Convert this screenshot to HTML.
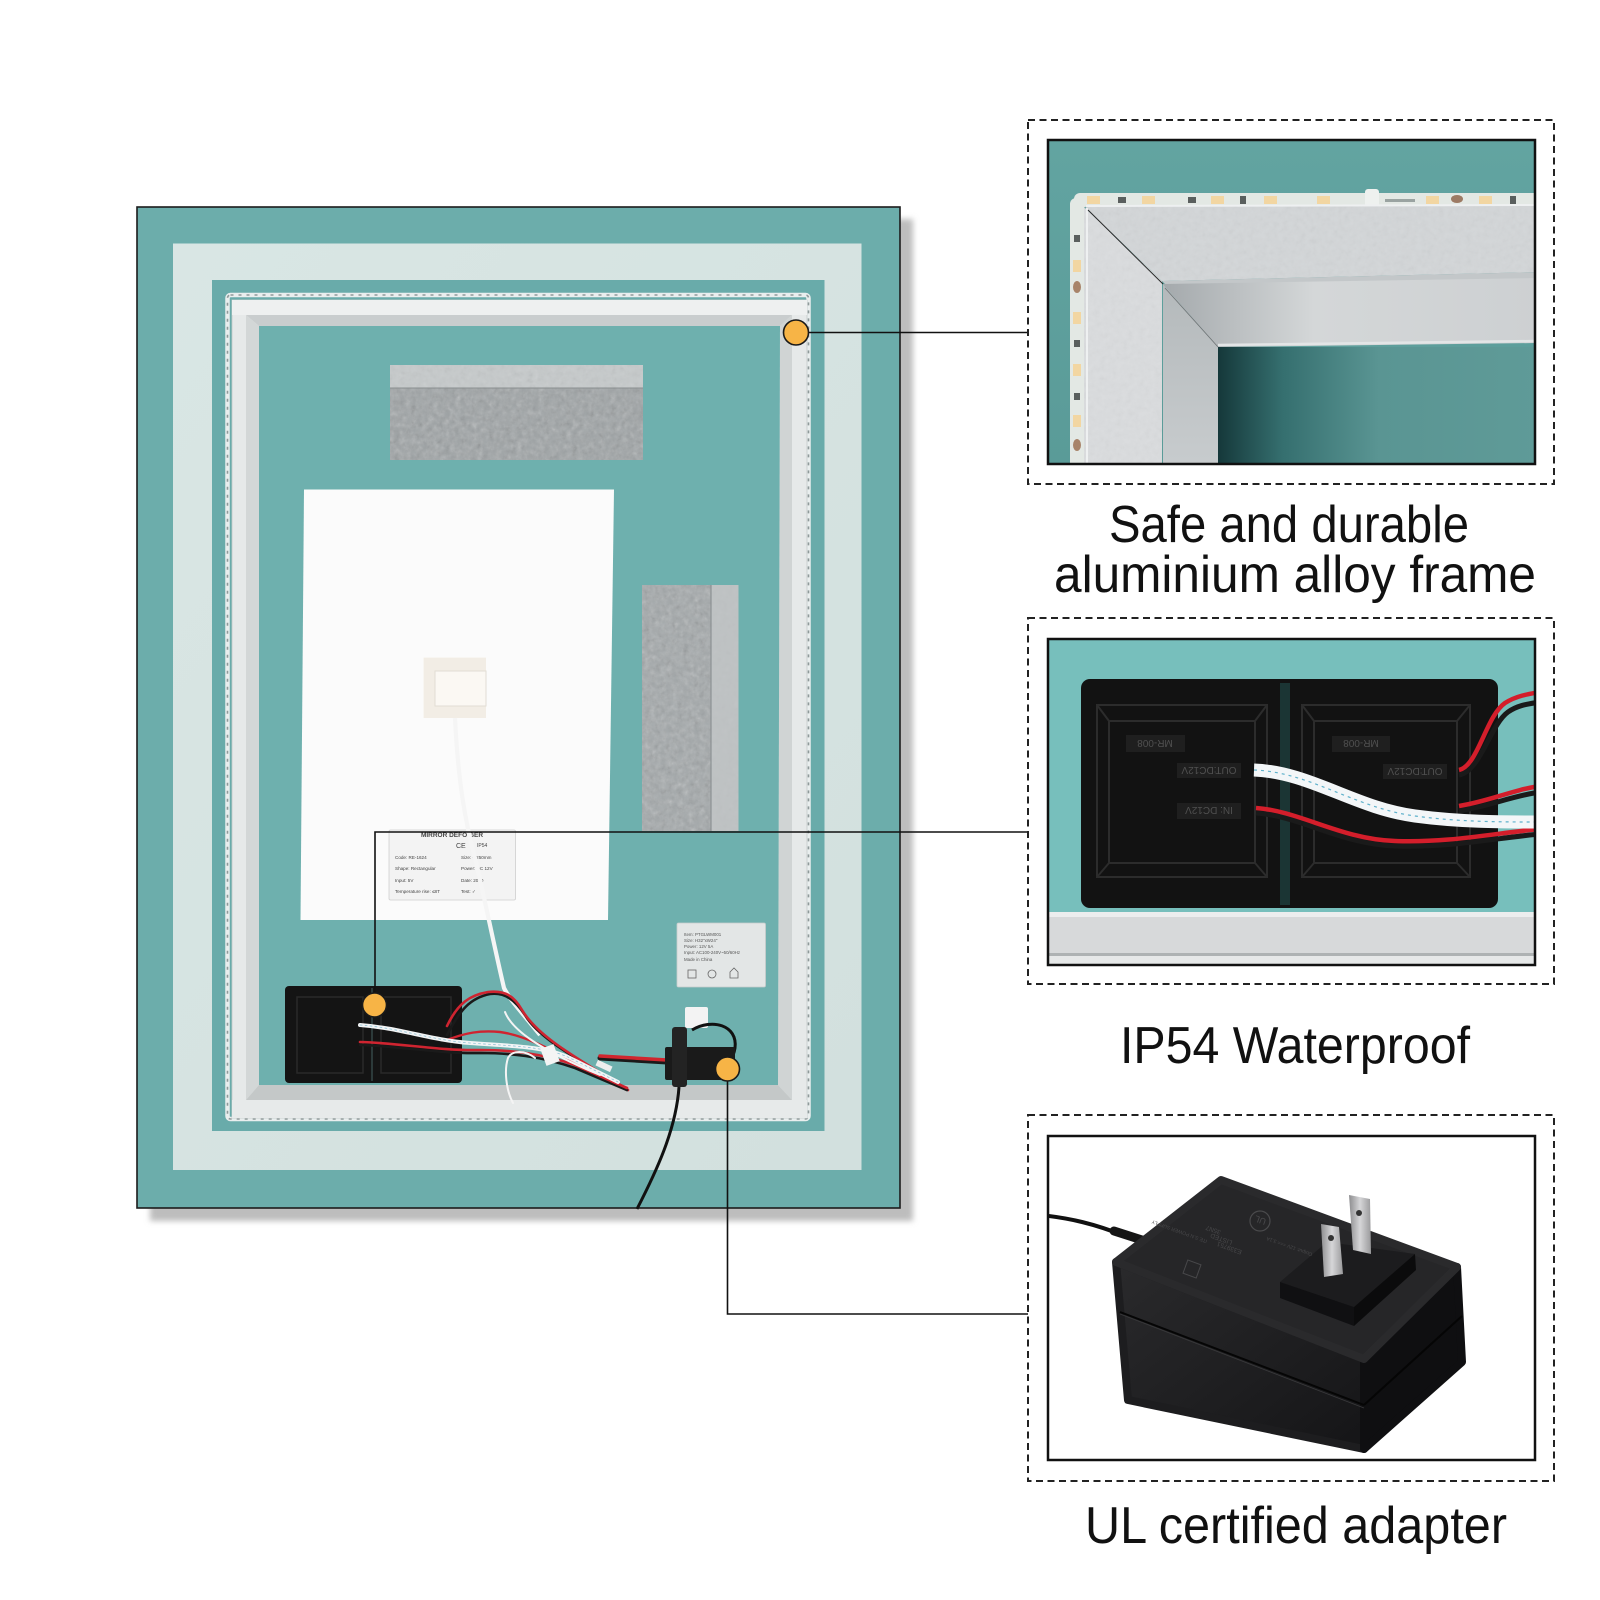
<!DOCTYPE html>
<html><head><meta charset="utf-8"><style>
html,body{margin:0;padding:0;background:#fff;}
svg{display:block;}
</style></head><body>
<svg width="1600" height="1600" viewBox="0 0 1600 1600" xmlns="http://www.w3.org/2000/svg" font-family="'Liberation Sans', sans-serif">
<defs>
  <filter id="blur3" x="-5%" y="-5%" width="110%" height="110%"><feGaussianBlur stdDeviation="3"/></filter>
  <filter id="noise" x="0" y="0" width="100%" height="100%">
    <feTurbulence type="fractalNoise" baseFrequency="0.18" numOctaves="3" seed="7"/>
    <feColorMatrix type="saturate" values="0"/>
    <feComposite operator="in" in2="SourceGraphic"/>
  </filter>
  <linearGradient id="innerTeal1" x1="0" y1="0" x2="1" y2="0">
    <stop offset="0" stop-color="#15383a"/>
    <stop offset="0.2" stop-color="#356f6f"/>
    <stop offset="0.5" stop-color="#5a9593"/>
    <stop offset="1" stop-color="#5f9b98"/>
  </linearGradient>
  <linearGradient id="innerTop1" x1="0" y1="0" x2="1" y2="0">
    <stop offset="0" stop-color="#a4a9ac"/>
    <stop offset="0.4" stop-color="#d4d7d8"/>
    <stop offset="1" stop-color="#cdd0d2"/>
  </linearGradient>
  <linearGradient id="innerLeft1" x1="0" y1="0" x2="0" y2="1">
    <stop offset="0" stop-color="#b4b9bb"/>
    <stop offset="1" stop-color="#c8ccce"/>
  </linearGradient>
  <linearGradient id="bg1" x1="0" y1="0" x2="0" y2="1">
    <stop offset="0" stop-color="#62a4a1"/>
    <stop offset="1" stop-color="#5a9b98"/>
  </linearGradient>
  <linearGradient id="band" x1="0" y1="0" x2="1" y2="1">
    <stop offset="0" stop-color="#d9e6e4"/>
    <stop offset="1" stop-color="#d2e0de"/>
  </linearGradient>
  <linearGradient id="prong" x1="0" y1="0" x2="1" y2="0">
    <stop offset="0" stop-color="#8d8d8f"/>
    <stop offset="0.5" stop-color="#d6d6d8"/>
    <stop offset="1" stop-color="#9a9a9c"/>
  </linearGradient>
  <linearGradient id="frontFace" x1="0" y1="0" x2="1" y2="1">
    <stop offset="0" stop-color="#2a2a2c"/>
    <stop offset="1" stop-color="#151517"/>
  </linearGradient>
  <clipPath id="c1"><rect x="1048" y="140" width="487" height="324"/></clipPath>
  <clipPath id="c2"><rect x="1048" y="639" width="487" height="326"/></clipPath>
  <clipPath id="c3"><rect x="1048" y="1136" width="487" height="324"/></clipPath>
</defs>

<rect width="1600" height="1600" fill="#ffffff"/>

<!-- ================= MIRROR ================= -->
<rect x="150" y="219" width="763" height="1002" fill="#bdbdbd" filter="url(#blur3)"/>
<rect x="137" y="207" width="763" height="1001" fill="#6cadab" stroke="#1c1c1c" stroke-width="1.6"/>
<rect x="173" y="243.5" width="688.5" height="926.5" fill="url(#band)"/>
<rect x="212" y="280" width="612.5" height="851" fill="#69abaa"/>

<!-- LED strip around frame -->
<rect x="227.5" y="295" width="581" height="824" fill="none" stroke="#e9eeee" stroke-width="4.5" rx="3"/>
<rect x="227.5" y="295" width="581" height="824" fill="none" stroke="#8f9a9a" stroke-width="1.6" stroke-dasharray="3 5" rx="3"/>

<!-- aluminium frame -->
<rect x="232" y="300" width="575" height="818" fill="#e6e9e9" stroke="#c5caca" stroke-width="0.8"/>
<rect x="232" y="300" width="575" height="15" fill="#eef0f0"/>
<polygon points="246,315 792,315 780,326 259,326" fill="#c9cdce"/>
<polygon points="246,315 259,326 259,1085 246,1100" fill="#d3d7d7"/>
<polygon points="792,315 780,326 778,1085 792,1100" fill="#d0d4d4"/>
<polygon points="259,1085 778,1085 792,1100 246,1100" fill="#c4c8c8"/>
<rect x="232" y="1100" width="575" height="18" fill="#e7eaea"/>
<polygon points="259,326 780,326 778,1085 259,1085" fill="#6eb0ae"/>

<!-- top bracket -->
<rect x="390" y="365" width="253" height="95" fill="#9ea3a5"/>
<rect x="390" y="365" width="253" height="95" fill="#808080" filter="url(#noise)" opacity="0.45"/>
<rect x="390" y="365" width="253" height="23" fill="#c6cacb"/>
<rect x="390" y="365" width="253" height="23" fill="#888" filter="url(#noise)" opacity="0.2"/>
<line x1="390" y1="388" x2="643" y2="388" stroke="#8a8f90" stroke-width="1"/>

<!-- right bracket -->
<rect x="642" y="585" width="96.5" height="246" fill="#a3a8aa"/>
<rect x="642" y="585" width="96.5" height="246" fill="#808080" filter="url(#noise)" opacity="0.45"/>
<rect x="711" y="585" width="27.5" height="246" fill="#c2c6c7" opacity="0.85"/>
<line x1="711" y1="585" x2="711" y2="831" stroke="#8d9294" stroke-width="1.2"/>

<!-- paper -->
<polygon points="304,489.5 614,489.5 608,920 300.5,920" fill="#fbfbfb"/>
<!-- sensor -->
<rect x="423.6" y="657.6" width="62.4" height="60.4" fill="#f2ede5"/>
<rect x="435" y="671" width="51" height="35" fill="#fbf8f3" stroke="#e2ddd4" stroke-width="1"/>

<!-- label on paper -->
<rect x="389" y="830" width="126.5" height="70" fill="#f3f3f3" stroke="#cfcfcf" stroke-width="0.8" rx="1.5"/>
<g fill="#444" font-size="4.6">
  <text x="452" y="837" text-anchor="middle" font-weight="bold" font-size="6.5">MIRROR DEFO GER</text>
  <text x="456" y="848" font-size="7">CE</text>
  <text x="477" y="847" font-size="5">IP54</text>
  <text x="395" y="859">Code: RE-1624</text>
  <text x="395" y="870">Shape: Rectangular</text>
  <text x="395" y="882">Input: 5V</text>
  <text x="395" y="893">Temperature rise: ≤8T</text>
  <text x="461" y="859">Size:  Φ250mm</text>
  <text x="461" y="870">Power:  DC 12V</text>
  <text x="461" y="882">Date:  2020</text>
  <text x="461" y="893">Test:  ✓</text>
</g>

<!-- small label -->
<rect x="677" y="923" width="88.5" height="64" fill="#e3e6e6" stroke="#c8cccc" stroke-width="0.8" rx="1.5"/>
<g fill="#555" font-size="4.4">
  <text x="684" y="936">Item: PTGLWM001</text>
  <text x="684" y="942">Size: H32"xW24"</text>
  <text x="684" y="948">Power: 12V 5A</text>
  <text x="684" y="954">Input: AC100-240V~50/60Hz</text>
  <text x="684" y="961">Made in China</text>
</g>
<rect x="688" y="970" width="8" height="8" fill="none" stroke="#666" stroke-width="0.8"/>
<circle cx="712" cy="974" r="4" fill="none" stroke="#666" stroke-width="0.8"/>
<polygon points="730,978 730,972 734,968 738,972 738,978" fill="none" stroke="#666" stroke-width="0.8"/>

<!-- sensor cable -->
<path d="M455,718 C458,780 465,822 476,862 C486,905 495,950 504,988 C510,1000 520,1010 540,1035" fill="none" stroke="#f5f5f5" stroke-width="4.2"/>

<!-- black box -->
<rect x="285" y="986" width="177" height="97" fill="#141414" rx="4"/>
<line x1="372" y1="988" x2="372" y2="1081" stroke="#2c3a3a" stroke-width="2"/>
<rect x="297" y="997" width="66" height="76" fill="none" stroke="#2a2a2a" stroke-width="1.5"/>
<rect x="381" y="997" width="70" height="76" fill="none" stroke="#2a2a2a" stroke-width="1.5"/>

<!-- wires -->
<g fill="none" stroke-linecap="round">
  <path d="M447,1035 C460,1010 470,998 490,994 C505,992 515,1000 525,1015 C540,1040 580,1060 625,1088" stroke="#1a1a1a" stroke-width="2.6"/>
  <path d="M447,1026 C458,1003 470,995 488,992 C505,990 514,996 522,1010 C540,1040 585,1062 628,1090" stroke="#cf2430" stroke-width="2.6"/>
  <path d="M447,1040 C465,1033 480,1030 500,1032 C530,1036 560,1055 618,1084" stroke="#cf2430" stroke-width="2.4"/>
  <path d="M360,1045 C400,1046 440,1054 480,1053 C510,1053 540,1056 575,1068 L627,1090" stroke="#1a1a1a" stroke-width="2.6"/>
  <path d="M360,1042 C400,1043 440,1051 480,1050 C510,1050 540,1053 575,1065 L627,1088" stroke="#cf2430" stroke-width="2.6"/>
  <path d="M360,1025 C400,1028 430,1040 470,1043 C510,1046 545,1046 570,1058 L618,1082" stroke="#f2f4f5" stroke-width="4"/>
  <path d="M360,1025 C400,1028 430,1040 470,1043 C510,1046 545,1046 570,1058 L618,1082" stroke="#8fc3d6" stroke-width="0.8" stroke-dasharray="2 3"/>
  <path d="M513,1103 C506,1090 504,1070 508,1058 C512,1050 525,1050 535,1058" stroke="#f4f4f4" stroke-width="2"/>
  <path d="M505,1012 C512,1030 540,1050 600,1075" stroke="#f4f4f4" stroke-width="2"/>
  <path d="M600,1058 L667,1062" stroke="#1a1a1a" stroke-width="5"/>
  <path d="M600,1056 L667,1060" stroke="#d0262e" stroke-width="3.5"/>
</g>
<rect x="543" y="1046" width="14" height="18" fill="#f4f4f4" transform="rotate(-20 550 1055)"/>
<rect x="596" y="1063" width="16" height="6" fill="#eeeeee" transform="rotate(25 604 1066)"/>

<!-- barrel / adapter connection -->
<rect x="685" y="1007" width="23" height="21" fill="#f3f3f3" rx="2"/>
<path d="M692,1030 C712,1018 738,1025 735,1048 C733,1060 728,1064 722,1065" fill="none" stroke="#111" stroke-width="3"/>
<rect x="665" y="1047" width="70" height="33" fill="#1a1a1a" rx="2"/>
<rect x="672" y="1027" width="15" height="60" fill="#232323" rx="3"/>
<path d="M679,1087 C676,1130 656,1172 637,1209" fill="none" stroke="#111" stroke-width="3"/>

<!-- connectors -->
<g stroke="#111" stroke-width="1.6" fill="none">
  <path d="M808,332.5 H1028"/>
  <path d="M375,993 V832 H1028"/>
  <path d="M727.5,1081 V1314 H1028"/>
</g>
<g fill="#f7b446" stroke="#1a1a1a" stroke-width="1.6">
  <circle cx="796" cy="332.5" r="12.5"/>
  <circle cx="374.5" cy="1005" r="12"/>
  <circle cx="727.5" cy="1069" r="12"/>
</g>

<!-- ================= INSET 1 ================= -->
<g clip-path="url(#c1)">
  <rect x="1048" y="140" width="487" height="324" fill="url(#bg1)"/>
  <!-- LED strip top -->
  <rect x="1074" y="193" width="470" height="14" fill="#e3e8e4" rx="6"/>
  <g fill="#f2d6a2">
    <rect x="1087" y="196" width="13" height="8"/><rect x="1142" y="196" width="13" height="8"/>
    <rect x="1211" y="196" width="13" height="8"/><rect x="1264" y="196" width="13" height="8"/>
    <rect x="1317" y="196" width="13" height="8"/><rect x="1426" y="196" width="13" height="8"/>
    <rect x="1479" y="196" width="13" height="8"/>
  </g>
  <g fill="#5a5f5e">
    <rect x="1118" y="197" width="8" height="6"/><rect x="1188" y="197" width="8" height="6"/>
    <rect x="1240" y="196" width="6" height="8"/><rect x="1510" y="196" width="6" height="8"/>
    <rect x="1385" y="199" width="30" height="3" fill="#9aa3a1"/>
  </g>
  <rect x="1365" y="189" width="14" height="18" fill="#eef1ef" rx="3"/>
  <ellipse cx="1457" cy="199" rx="6" ry="4" fill="#9c7a64"/>
  <!-- LED strip left -->
  <rect x="1070" y="198" width="14" height="280" fill="#e3e8e4" rx="6"/>
  <g fill="#f2d6a2">
    <rect x="1073" y="260" width="8" height="12"/><rect x="1073" y="312" width="8" height="12"/>
    <rect x="1073" y="364" width="8" height="12"/><rect x="1073" y="415" width="8" height="12"/>
  </g>
  <g fill="#5a5f5e">
    <rect x="1074" y="235" width="6" height="7"/><rect x="1074" y="340" width="6" height="7"/>
    <rect x="1074" y="393" width="6" height="7"/>
  </g>
  <ellipse cx="1077" cy="287" rx="4" ry="6" fill="#a8846a"/>
  <ellipse cx="1077" cy="445" rx="4" ry="6" fill="#a8846a"/>
  <!-- frame -->
  <polygon points="1085,206 1540,205 1540,272 1162,281 1088,210" fill="#d3d6d8"/>
  <polygon points="1085,206 1540,205 1540,272 1162,281 1088,210" fill="#888" filter="url(#noise)" opacity="0.12"/>
  <polygon points="1084,207 1162,281 1162,470 1084,470" fill="#dadcde"/>
  <polygon points="1084,207 1162,281 1162,470 1084,470" fill="#888" filter="url(#noise)" opacity="0.1"/>
  <line x1="1086" y1="206" x2="1540" y2="205" stroke="#eef0f1" stroke-width="2"/>
  <line x1="1087" y1="208" x2="1087" y2="470" stroke="#eef0f1" stroke-width="2"/>
  <polygon points="1162,281 1540,272 1540,279 1168,287" fill="#c3c7c9"/>
  <polygon points="1163,284 1540,278 1540,343 1218,347" fill="url(#innerTop1)"/>
  <polygon points="1163,284 1218,347 1218,470 1163,470" fill="url(#innerLeft1)"/>
  <line x1="1088" y1="210" x2="1163" y2="284" stroke="#2a2a2a" stroke-width="1"/>
  <line x1="1165" y1="288" x2="1218" y2="347" stroke="#6d7274" stroke-width="0.8"/>
  <line x1="1218" y1="345" x2="1540" y2="341" stroke="#e3e5e6" stroke-width="2.5"/>
  <rect x="1218" y="347" width="322" height="120" fill="url(#innerTeal1)"/>
</g>
<rect x="1048" y="140" width="487" height="324" fill="none" stroke="#111" stroke-width="2.5"/>

<!-- ================= INSET 2 ================= -->
<g clip-path="url(#c2)">
  <rect x="1048" y="639" width="487" height="326" fill="#77bfbc"/>
  <rect x="1081" y="679" width="417" height="229" fill="#121212" rx="9"/>
  <rect x="1280" y="683" width="10" height="222" fill="#1b3534"/>
  <g fill="none" stroke="#2c2c2c" stroke-width="2">
    <rect x="1109" y="721" width="146" height="142"/>
    <rect x="1097" y="705" width="170" height="172"/>
    <path d="M1097,705 L1109,721 M1267,705 L1255,721 M1097,877 L1109,863 M1267,877 L1255,863"/>
    <rect x="1314" y="721" width="143" height="142"/>
    <rect x="1302" y="705" width="168" height="172"/>
    <path d="M1302,705 L1314,721 M1470,705 L1457,721 M1302,877 L1314,863 M1470,877 L1457,863"/>
  </g>
  <g fill="#1f1f1f">
    <rect x="1126" y="735" width="59" height="17"/>
    <rect x="1177" y="763" width="64" height="15"/>
    <rect x="1177" y="803" width="64" height="16"/>
    <rect x="1332" y="736" width="58" height="16"/>
    <rect x="1383" y="764" width="64" height="15"/>
  </g>
  <g fill="#505050" font-size="10" text-anchor="middle">
    <text x="1155" y="747" transform="rotate(180 1155 743.5)">MR-008</text>
    <text x="1209" y="774" transform="rotate(180 1209 770.5)">OUT:DC12V</text>
    <text x="1209" y="815" transform="rotate(180 1209 811)">IN: DC12V</text>
    <text x="1361" y="748" transform="rotate(180 1361 744)">MR-008</text>
    <text x="1415" y="775" transform="rotate(180 1415 771.5)">OUT:DC12V</text>
  </g>
  <!-- silver bar -->
  <rect x="1048" y="912" width="487" height="53" fill="#d7d9da"/>
  <rect x="1048" y="912" width="487" height="5" fill="#eceeee"/>
  <rect x="1048" y="953" width="487" height="3" fill="#aeb2b3"/>
  <rect x="1048" y="956" width="487" height="9" fill="#e6e8e8"/>
  <!-- wires -->
  <g fill="none" stroke-linecap="butt">
    <path d="M1459,775 C1480,772 1490,725 1508,712 C1518,705 1528,704 1540,702" stroke="#1a1a1a" stroke-width="5"/>
    <path d="M1459,770 C1478,766 1486,716 1505,703 C1516,696 1528,694 1540,692" stroke="#d41e2b" stroke-width="4.5"/>
    <path d="M1459,811 C1490,806 1512,796 1540,792" stroke="#1a1a1a" stroke-width="5"/>
    <path d="M1459,806 C1490,801 1512,790 1540,786" stroke="#d41e2b" stroke-width="4.5"/>
    <path d="M1256,813 C1300,816 1340,844 1395,846 C1450,848 1495,838 1540,834" stroke="#1a1a1a" stroke-width="5"/>
    <path d="M1256,808 C1300,811 1340,839 1395,841 C1450,843 1495,833 1540,829" stroke="#d41e2b" stroke-width="4.5"/>
    <path d="M1254,770 C1310,772 1355,808 1415,816 C1460,822 1500,822 1540,822" stroke="#f3f6f8" stroke-width="13"/>
    <path d="M1254,770 C1310,772 1355,808 1415,816 C1460,822 1500,822 1540,822" stroke="#5fb1cb" stroke-width="1.2" stroke-dasharray="3 4"/>
  </g>
</g>
<rect x="1048" y="639" width="487" height="326" fill="none" stroke="#111" stroke-width="2.5"/>

<!-- ================= INSET 3 ================= -->
<g clip-path="url(#c3)">
  <rect x="1048" y="1136" width="487" height="324" fill="#ffffff"/>
  <!-- cable -->
  <path d="M1040,1215 C1070,1218 1095,1224 1125,1236" fill="none" stroke="#111" stroke-width="4"/>
  <path d="M1114,1231 L1142,1240" stroke="#151515" stroke-width="9" stroke-linecap="round"/>
  <!-- body -->
  <g stroke-linejoin="round">
    <polygon points="1116,1262 1364,1359 1364,1449 1128,1400" fill="url(#frontFace)" stroke="#1d1d1f" stroke-width="8"/>
    <polygon points="1364,1359 1457,1267 1462,1362 1364,1449" fill="#0f0f11" stroke="#0f0f11" stroke-width="8"/>
    <polygon points="1116,1262 1221,1180 1457,1267 1364,1359" fill="#262628" stroke="#2a2a2c" stroke-width="8"/>
  </g>
  <line x1="1120" y1="1312" x2="1364" y2="1405" stroke="#050505" stroke-width="2"/>
  <line x1="1364" y1="1405" x2="1462" y2="1316" stroke="#050505" stroke-width="2"/>
  <line x1="1120" y1="1314" x2="1364" y2="1408" stroke="#3a3a3c" stroke-width="0.8"/>
  <!-- plug base -->
  <polygon points="1280,1282 1327,1242 1415,1254 1354,1307" fill="#1c1c1e"/>
  <polygon points="1280,1282 1354,1307 1354,1326 1280,1298" fill="#101012"/>
  <polygon points="1354,1307 1415,1254 1416,1270 1354,1326" fill="#0b0b0c"/>
  <!-- prongs -->
  <polygon points="1349,1195 1370,1199 1371,1254 1353,1250" fill="url(#prong)"/>
  <circle cx="1359" cy="1213" r="3" fill="#333"/>
  <polygon points="1321,1224 1339,1227 1343,1274 1324,1277" fill="url(#prong)"/>
  <circle cx="1331" cy="1238" r="3" fill="#333"/>
  <!-- markings -->
  <circle cx="1260" cy="1221" r="10" fill="none" stroke="#4a4a4c" stroke-width="1.2"/>
  <text x="1260" y="1225" font-size="9" fill="#4a4a4c" text-anchor="middle" transform="rotate(200 1260 1221)">UL</text>
  <g fill="#48484a" font-size="6.5" text-anchor="middle">
    <text x="1230" y="1246" transform="rotate(200 1230 1246)">E339751</text>
    <text x="1222" y="1237" transform="rotate(200 1222 1237)">LISTED</text>
    <text x="1214" y="1228" transform="rotate(200 1214 1228)">35N7</text>
    <text x="1180" y="1230" font-size="5" transform="rotate(200 1180 1230)">ITE S.N POWER SUPPLY</text>
    <text x="1290" y="1245" font-size="5" transform="rotate(200 1290 1245)">Output: 12V === 3.1A</text>
  </g>
  <rect x="1185" y="1262" width="14" height="14" fill="none" stroke="#48484a" stroke-width="1" transform="rotate(20 1192 1269)"/>
</g>
<rect x="1048" y="1136" width="487" height="324" fill="none" stroke="#111" stroke-width="2.5"/>

<!-- ================= DASHED BOXES ================= -->
<g fill="none" stroke="#222" stroke-width="2" stroke-dasharray="7 4.5">
  <rect x="1028" y="120" width="526" height="364"/>
  <rect x="1028" y="618" width="526" height="366"/>
  <rect x="1028" y="1115" width="526" height="366"/>
</g>

<!-- ================= LABELS ================= -->
<g fill="#111" font-size="52" text-anchor="middle">
  <text x="1289" y="542" textLength="360" lengthAdjust="spacingAndGlyphs">Safe and durable</text>
  <text x="1295" y="592" textLength="482" lengthAdjust="spacingAndGlyphs">aluminium alloy frame</text>
  <text x="1295" y="1063" textLength="350" lengthAdjust="spacingAndGlyphs">IP54 Waterproof</text>
  <text x="1296" y="1543" textLength="422" lengthAdjust="spacingAndGlyphs">UL certified adapter</text>
</g>
</svg>
</body></html>
